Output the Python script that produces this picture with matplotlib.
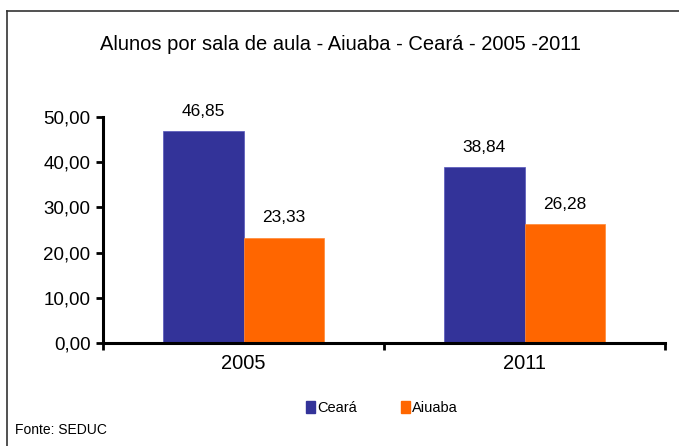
import matplotlib
matplotlib.use('Agg')
import matplotlib.pyplot as plt
import numpy as np
from matplotlib.lines import Line2D
from matplotlib.patches import Patch

plt.rcParams['font.family'] = ['Liberation Sans', 'DejaVu Sans']

anos = ['2005', '2011']
ceara = [46.85, 38.84]
aiuaba = [23.33, 26.28]
y_ticks = [0, 10, 20, 30, 40, 50]

AZUL = '#333399'
LARANJA = '#FF6600'

fig = plt.figure(figsize=(6.79, 4.46), dpi=100)
ax = fig.add_axes([103/679, 1 - 343/446, (665 - 103)/679, (343 - 117)/446])

x = np.arange(len(anos))
w = 0.285
b1 = ax.bar(x - w/2, ceara, w, color=AZUL, edgecolor='#5555bb', linewidth=0.5)
b2 = ax.bar(x + w/2, aiuaba, w, color=LARANJA, edgecolor='#ff8833', linewidth=0.5)

def fmt(v):
    return f"{v:.2f}".replace('.', ',')

for bars, vals in [(b1, ceara), (b2, aiuaba)]:
    for r, v in zip(bars, vals):
        ax.annotate(fmt(v), (r.get_x() + r.get_width()/2, v), xytext=(0, 9),
                    textcoords='offset points', ha='center', va='bottom', fontsize=12.5)

ax.set_xlim(-0.5, 1.5)
ax.set_ylim(0, 50)
ax.set_yticks(y_ticks)
ax.set_yticklabels([fmt(v) for v in y_ticks], fontsize=13.5)
ax.set_xticks([-0.5, 0.5, 1.5])
ax.set_xticklabels([])
ax.set_xticks(x, minor=True)
ax.set_xticklabels(anos, minor=True, fontsize=14.5)
ax.tick_params(axis='x', which='minor', length=0, pad=8)
ax.tick_params(axis='x', which='major', length=5, width=2)
ax.tick_params(axis='y', length=5, width=2, pad=4)
for s in ['top', 'right']:
    ax.spines[s].set_visible(False)
for s in ['left', 'bottom']:
    ax.spines[s].set_linewidth(2.2)

fig.text(340/679, 1 - 44/446, 'Alunos por sala de aula - Aiuaba - Ceará - 2005 -2011',
         ha='center', va='center', fontsize=14.5)

handles = [Patch(color=AZUL, label='Ceará'), Patch(color=LARANJA, label='Aiuaba')]
fig.legend(handles=handles, loc='center', bbox_to_anchor=(382/679, 1 - 408/446), ncol=2,
           frameon=False, fontsize=10.5, handlelength=0.6, handleheight=0.8,
           handletextpad=0.15, columnspacing=3.0)

fig.text(15/679, 1 - 430/446, 'Fonte: SEDUC', ha='left', va='center', fontsize=10)

# moldura do gráfico
fig.add_artist(Line2D([7/679, 1], [1 - 11/446, 1 - 11/446], color='#333333', lw=1.2))
fig.add_artist(Line2D([7/679, 7/679], [0, 1 - 11/446], color='#333333', lw=1.2))

fig.savefig('out.png', dpi=100)
